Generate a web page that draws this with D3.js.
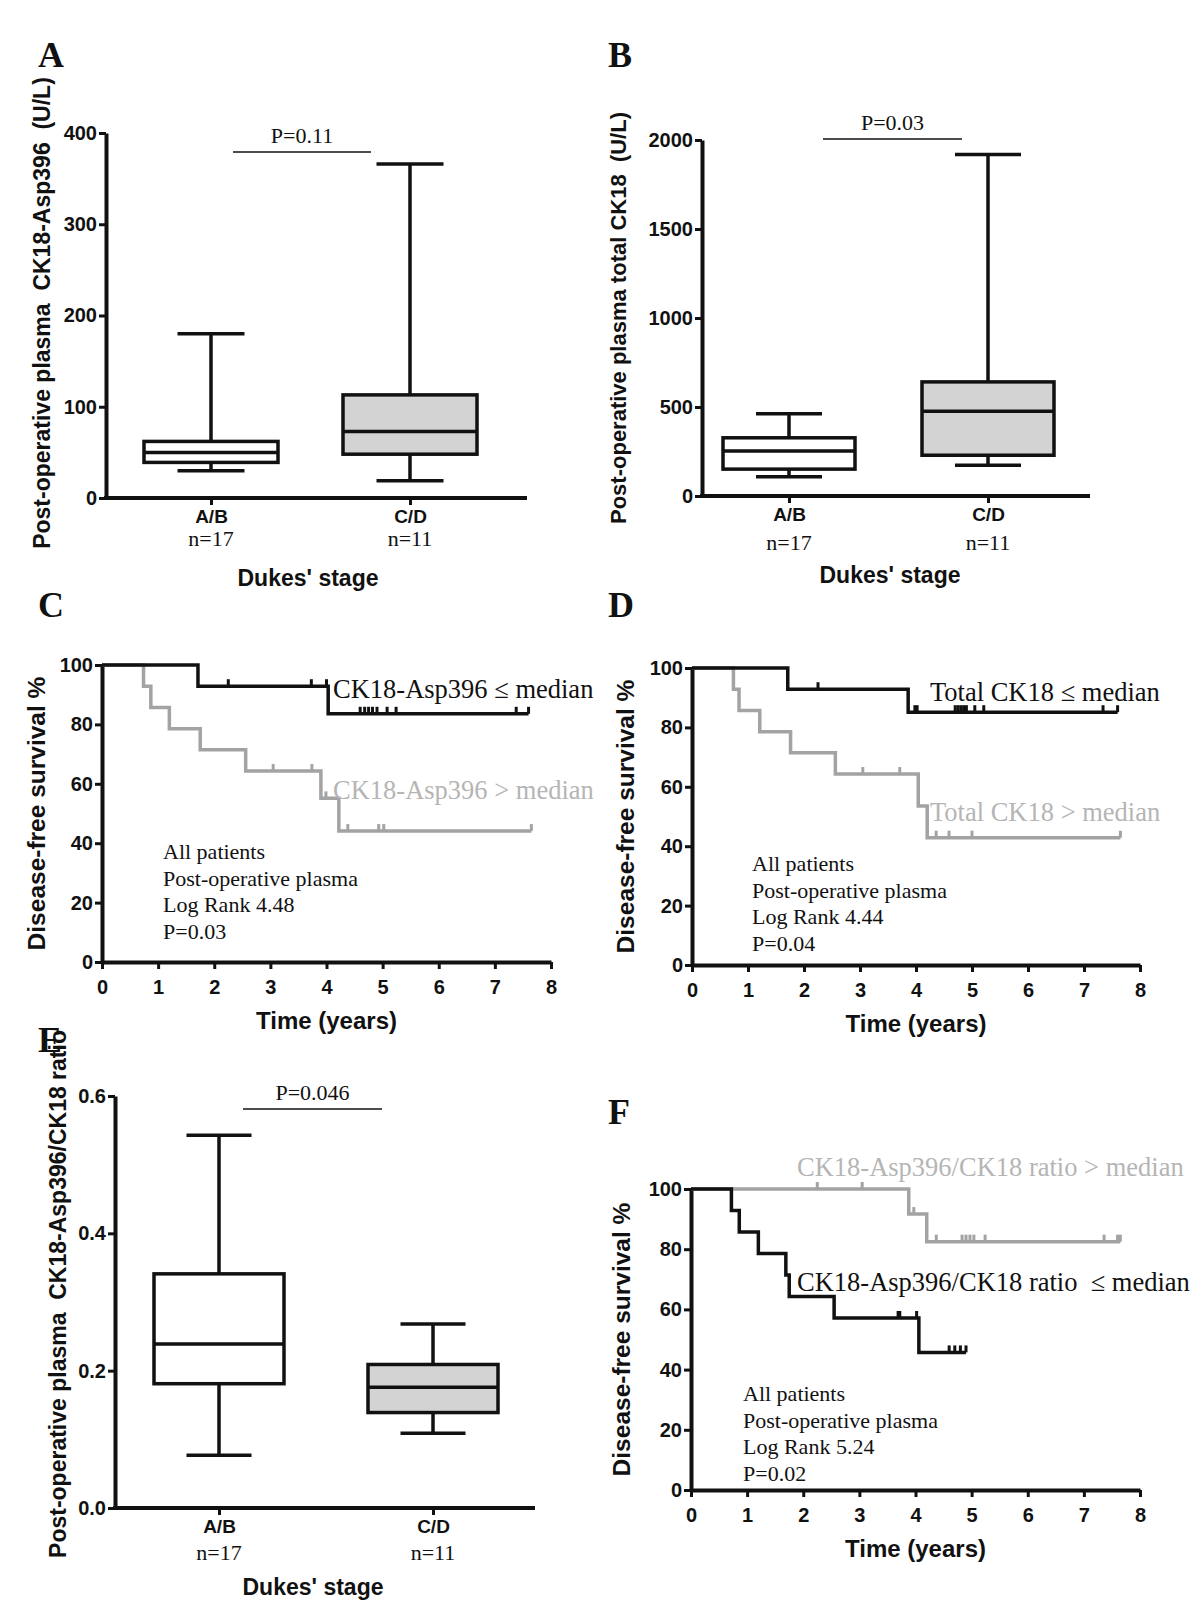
<!DOCTYPE html>
<html>
<head>
<meta charset="utf-8">
<script src="https://cdn.jsdelivr.net/npm/d3@7/dist/d3.min.js"></script>
<style>
  body { margin: 0; background: #fff; }
  text { white-space: pre; }
</style>
</head>
<body>
<svg id="chart"></svg>
<script>
// ---- data ----
// box plots: [min, q1, median, q3, max] for each Dukes' stage group
let groups = ['A/B', 'C/D']
let groupN = ['n=17', 'n=11']
let asp396Box = [[30, 39, 50, 62, 180], [19, 48, 73, 113, 366]]
let totalBox = [[108, 151, 253, 327, 462], [173, 229, 476, 641, 1918]]
let ratioBox = [[0.077, 0.181, 0.239, 0.341, 0.543], [0.109, 0.139, 0.176, 0.209, 0.268]]
let asp396Ticks = [0, 100, 200, 300, 400]
let totalTicks = [0, 500, 1000, 1500, 2000]
let ratioTicks = [0, 0.2, 0.4, 0.6]

// survival curves: events are [time, survival %], censors are times
let survTicks = [0, 20, 40, 60, 80, 100]
let timeTicks = [0, 1, 2, 3, 4, 5, 6, 7, 8]

let cLowEvents = [[1.71, 92.86], [4.03, 83.57]]
let cLowCensor = [2.25, 3.73, 4.0, 4.6, 4.68, 4.75, 4.82, 4.9, 5.08, 5.24, 7.38, 7.6]
let cHighEvents = [[0.74, 92.86], [0.87, 85.71], [1.2, 78.57], [1.75, 71.43], [2.56, 64.29], [3.9, 55.1], [4.22, 44.08]]
let cHighCensor = [3.05, 3.74, 3.99, 4.38, 4.93, 5.02, 7.65]

let dLowEvents = [[1.71, 92.86], [3.86, 85.12]]
let dLowCensor = [2.25, 3.98, 4.02, 4.7, 4.75, 4.8, 4.85, 4.9, 5.05, 5.21, 7.34, 7.6]
let dHighEvents = [[0.74, 92.86], [0.84, 85.71], [1.21, 78.57], [1.76, 71.43], [2.56, 64.29], [4.04, 53.57], [4.2, 42.86]]
let dHighCensor = [3.05, 3.71, 4.36, 4.59, 5.0, 7.65]

let fHighEvents = [[3.88, 91.67], [4.2, 82.5]]
let fHighCensor = [2.25, 3.05, 3.97, 4.37, 4.83, 4.9, 4.97, 5.04, 5.24, 7.36, 7.6, 7.65]
let fLowEvents = [[0.72, 92.86], [0.86, 85.71], [1.2, 78.57], [1.69, 71.43], [1.75, 64.29], [2.55, 57.14], [4.06, 45.71]]
let fLowCensor = [3.69, 3.72, 4.02, 4.6, 4.7, 4.8, 4.9]

// ---- styles ----
let sans = '"Liberation Sans", Arial, sans-serif'
let serif = '"Liberation Serif", "Times New Roman", serif'
let black = '#111'
let grayLine = '#a3a3a3'
let grayText = '#b5b5b5'
let boxGray = '#d3d3d3'

let svg = d3.select('#chart').attr('width', 1200).attr('height', 1600)

let addText = (x, y, str, opts) => {
    let t = svg.append('text')
        .attr('x', x).attr('y', y)
        .text(str)
        .attr('font-family', opts.family || sans)
        .attr('font-size', opts.size || 18)
        .attr('font-weight', opts.weight || 'normal')
        .attr('fill', opts.fill || black)
        .attr('text-anchor', opts.anchor || 'start')
    if (opts.rotate) {
        t.attr('transform', 'rotate(-90,' + x + ',' + y + ')')
    }
    return t
}

let styleAxis = (g, size) => {
    g.selectAll('.domain').attr('stroke', black).attr('stroke-width', 4)
    g.selectAll('.tick line').attr('stroke', black).attr('stroke-width', 3)
    g.selectAll('.tick text')
        .attr('fill', black)
        .attr('font-family', sans)
        .attr('font-weight', 'bold')
        .attr('font-size', size)
}

// ---- box plot panel ----
let drawBox = (cfg) => {
    let y = d3.scaleLinear().domain([0, d3.max(cfg.ticks)]).range([cfg.y0, cfg.y1])
    let x = d3.scalePoint().domain(groups).range([cfg.xa, cfg.xb])

    let yAxis = svg.append('g')
        .attr('transform', 'translate(' + cfg.left + ',0)')
        .call(d3.axisLeft(y).tickValues(cfg.ticks).tickFormat(cfg.fmt)
            .tickSize(7).tickSizeOuter(0).tickPadding(2))
    styleAxis(yAxis, 20)

    let xAxis = svg.append('g')
        .attr('transform', 'translate(0,' + cfg.y0 + ')')
        .call(d3.axisBottom(x).tickSize(7).tickSizeOuter(0).tickPadding(5))
    styleAxis(xAxis, 19)
    xAxis.select('.domain').remove()
    svg.append('line')
        .attr('x1', cfg.left - 2).attr('x2', cfg.right)
        .attr('y1', cfg.y0).attr('y2', cfg.y0)
        .attr('stroke', black).attr('stroke-width', 4)

    groups.forEach((grp, i) => {
        addText(x(grp), cfg.nY, groupN[i], { family: serif, size: 22, anchor: 'middle' })
    })

    let bw = cfg.boxW
    let g = svg.append('g')
    cfg.data.forEach((d, i) => {
        let cx = x(groups[i])
        // whiskers
        g.append('line').attr('x1', cx).attr('x2', cx).attr('y1', y(d[0])).attr('y2', y(d[4]))
            .attr('stroke', black).attr('stroke-width', 3.5)
        ;[d[0], d[4]].forEach((v) => {
            g.append('line').attr('x1', cx - bw / 4).attr('x2', cx + bw / 4)
                .attr('y1', y(v)).attr('y2', y(v))
                .attr('stroke', black).attr('stroke-width', 3.5)
        })
        // box
        g.append('rect')
            .attr('x', cx - bw / 2).attr('width', bw)
            .attr('y', y(d[3])).attr('height', y(d[1]) - y(d[3]))
            .attr('fill', i === 0 ? '#fff' : boxGray)
            .attr('stroke', black).attr('stroke-width', 3.5)
        g.append('line').attr('x1', cx - bw / 2).attr('x2', cx + bw / 2)
            .attr('y1', y(d[2])).attr('y2', y(d[2]))
            .attr('stroke', black).attr('stroke-width', 3.5)
    })

    // significance bar
    svg.append('line')
        .attr('x1', cfg.pX1).attr('x2', cfg.pX2).attr('y1', cfg.pY).attr('y2', cfg.pY)
        .attr('stroke', black).attr('stroke-width', 1.3)
    addText((cfg.pX1 + cfg.pX2) / 2, cfg.pY - 9, cfg.pText, { family: serif, size: 22, anchor: 'middle' })

    addText(cfg.titleX, cfg.titleY, "Dukes' stage", { size: 23, weight: 'bold', anchor: 'middle' })
    addText(cfg.yLabX, cfg.yLabY, cfg.yLabel, { size: cfg.yLabSize, weight: 'bold', anchor: 'middle', rotate: true })
}

// ---- survival panel ----
let survAt = (events, t) => {
    let s = 100
    events.forEach((e) => { if (e[0] <= t) s = e[1] })
    return s
}

let drawKM = (cfg) => {
    let x = d3.scaleLinear().domain([0, 8]).range([cfg.left, cfg.right])
    let y = d3.scaleLinear().domain([0, 100]).range([cfg.y0, cfg.y1])

    let yAxis = svg.append('g')
        .attr('transform', 'translate(' + cfg.left + ',0)')
        .call(d3.axisLeft(y).tickValues(survTicks).tickSize(7).tickSizeOuter(0).tickPadding(2))
    styleAxis(yAxis, 20)
    let xAxis = svg.append('g')
        .attr('transform', 'translate(0,' + cfg.y0 + ')')
        .call(d3.axisBottom(x).tickValues(timeTicks).tickSize(7).tickSizeOuter(0).tickPadding(11))
    styleAxis(xAxis, 20)

    let line = d3.line()
        .x((p) => x(p[0]))
        .y((p) => y(p[1]))
        .curve(d3.curveStepAfter)

    cfg.curves.forEach((c) => {
        let end = d3.max(c.censor.concat(c.events.map((e) => e[0])))
        let pts = [[0, 100]].concat(c.events)
        pts.push([end, c.events[c.events.length - 1][1]])
        svg.append('path')
            .datum(pts)
            .attr('d', line)
            .attr('fill', 'none')
            .attr('stroke', c.color)
            .attr('stroke-width', 3.5)
        svg.append('g').selectAll('line')
            .data(c.censor)
            .enter()
            .append('line')
            .attr('x1', (t) => x(t)).attr('x2', (t) => x(t))
            .attr('y1', (t) => y(survAt(c.events, t)))
            .attr('y2', (t) => y(survAt(c.events, t)) - 7)
            .attr('stroke', c.color)
            .attr('stroke-width', 3)
        addText(c.labX, c.labY, c.label, { family: serif, size: 26.5, fill: c.textColor })
    })

    cfg.notes.forEach((n, i) => {
        addText(cfg.noteX, cfg.noteY + i * 26.5, n, { family: serif, size: 22 })
    })

    addText((cfg.left + cfg.right) / 2, cfg.y0 + 67, 'Time (years)', { size: 24, weight: 'bold', anchor: 'middle' })
    addText(cfg.yLabX, (cfg.y0 + cfg.y1) / 2, 'Disease-free survival %', { size: 24.5, weight: 'bold', anchor: 'middle', rotate: true })
}

// ---- panels ----
drawBox({
    data: asp396Box, ticks: asp396Ticks, fmt: d3.format('d'),
    left: 106, right: 527, y0: 498, y1: 133, xa: 211, xb: 410, boxW: 134, nY: 546,
    pX1: 233, pX2: 371, pY: 152, pText: 'P=0.11',
    titleX: 308, titleY: 586,
    yLabX: 50, yLabY: 313, yLabSize: 23, yLabel: 'Post-operative plasma  CK18-Asp396  (U/L)'
})

drawBox({
    data: totalBox, ticks: totalTicks, fmt: d3.format('d'),
    left: 702, right: 1090, y0: 496, y1: 140, xa: 789, xb: 988, boxW: 132, nY: 550,
    pX1: 823, pX2: 962, pY: 139, pText: 'P=0.03',
    titleX: 890, titleY: 583,
    yLabX: 626, yLabY: 318, yLabSize: 22, yLabel: 'Post-operative plasma total CK18  (U/L)'
})

drawBox({
    data: ratioBox, ticks: ratioTicks, fmt: d3.format('.1f'),
    left: 115, right: 535, y0: 1508, y1: 1096, xa: 219, xb: 433, boxW: 130, nY: 1560,
    pX1: 243, pX2: 382, pY: 1109, pText: 'P=0.046',
    titleX: 313, titleY: 1595,
    yLabX: 66, yLabY: 1294, yLabSize: 23, yLabel: 'Post-operative plasma  CK18-Asp396/CK18 ratio'
})

drawKM({
    left: 102, right: 551, y0: 962, y1: 665, yLabX: 45,
    curves: [
        { events: cHighEvents, censor: cHighCensor, color: grayLine, textColor: grayText,
          label: 'CK18-Asp396 > median', labX: 333, labY: 799 },
        { events: cLowEvents, censor: cLowCensor, color: black, textColor: black,
          label: 'CK18-Asp396 \u2264 median', labX: 333, labY: 698 }
    ],
    notes: ['All patients', 'Post-operative plasma', 'Log Rank 4.48', 'P=0.03'],
    noteX: 163, noteY: 859
})

drawKM({
    left: 692, right: 1140, y0: 965, y1: 668, yLabX: 634,
    curves: [
        { events: dHighEvents, censor: dHighCensor, color: grayLine, textColor: grayText,
          label: 'Total CK18 > median', labX: 930, labY: 821 },
        { events: dLowEvents, censor: dLowCensor, color: black, textColor: black,
          label: 'Total CK18 \u2264 median', labX: 930, labY: 701 }
    ],
    notes: ['All patients', 'Post-operative plasma', 'Log Rank 4.44', 'P=0.04'],
    noteX: 752, noteY: 871
})

drawKM({
    left: 691, right: 1140, y0: 1490, y1: 1189, yLabX: 630,
    curves: [
        { events: fHighEvents, censor: fHighCensor, color: grayLine, textColor: grayText,
          label: 'CK18-Asp396/CK18 ratio > median', labX: 797, labY: 1176 },
        { events: fLowEvents, censor: fLowCensor, color: black, textColor: black,
          label: 'CK18-Asp396/CK18 ratio  \u2264 median', labX: 797, labY: 1291 }
    ],
    notes: ['All patients', 'Post-operative plasma', 'Log Rank 5.24', 'P=0.02'],
    noteX: 743, noteY: 1401
})

// panel letters
let letters = [['A', 38, 67], ['B', 608, 67], ['C', 38, 617], ['D', 608, 617], ['E', 38, 1052], ['F', 608, 1124]]
letters.forEach((l) => {
    addText(l[1], l[2], l[0], { family: serif, size: 36, weight: 'bold' })
})
</script>
</body>
</html>
